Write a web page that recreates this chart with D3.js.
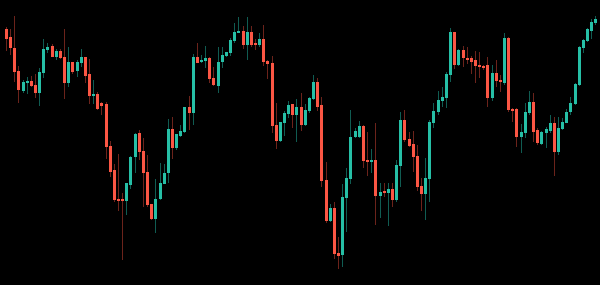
<!DOCTYPE html>
<html>
<head>
<meta charset="utf-8">
<script src="https://cdn.jsdelivr.net/npm/d3@7"></script>
<style>
    html, body { margin: 0; padding: 0; background: #000; }
    svg { display: block; }
</style>
</head>
<body>
<div id="chart"></div>
<script>
const open = [271, 263, 252, 229, 209, 217, 219, 215, 207, 227, 250, 254, 243, 249, 243, 217, 238, 229, 237, 243,
    226, 204, 206, 197, 196, 154, 130, 101, 101, 99, 115, 143, 167, 149, 128, 96, 81, 101, 116, 127,
    171, 152, 164, 168, 193, 187, 243, 238, 239, 242, 222, 214, 238, 244, 247, 259, 267, 269, 255, 268,
    257, 255, 261, 239, 237, 175, 159, 177, 186, 196, 185, 193, 175, 189, 201, 218, 195, 120, 79, 92,
    47, 45, 102, 121, 163, 163, 174, 140, 138, 140, 104, 109, 107, 111, 100, 134, 180, 161, 156, 144,
    114, 106, 121, 177, 188, 199, 202, 225, 268, 235, 250, 242, 242, 240, 235, 234, 235, 202, 227, 220,
    217, 262, 191, 191, 163, 167, 187, 198, 170, 156, 167, 169, 177, 148, 171, 177, 188, 196, 215, 252,
    259, 269, 277]
const high = [273, 271, 284, 234, 220, 223, 224, 226, 232, 261, 257, 256, 251, 251, 271, 253, 238, 240, 251, 243,
    241, 220, 208, 198, 198, 159, 136, 146, 107, 117, 144, 167, 170, 162, 145, 96, 121, 137, 136, 181,
    183, 166, 175, 193, 204, 246, 257, 245, 254, 243, 233, 253, 253, 248, 262, 277, 283, 274, 283, 274,
    261, 267, 275, 240, 244, 197, 178, 189, 199, 196, 201, 207, 196, 203, 225, 222, 203, 138, 96, 98,
    63, 116, 132, 190, 172, 179, 175, 168, 151, 177, 117, 117, 117, 117, 140, 188, 190, 168, 169, 155,
    122, 142, 180, 197, 209, 213, 228, 272, 268, 251, 254, 253, 244, 249, 248, 235, 243, 235, 240, 225,
    267, 263, 192, 192, 176, 197, 209, 207, 172, 169, 173, 185, 183, 183, 182, 191, 203, 217, 254, 261,
    272, 281, 284]
const low = [249, 245, 218, 197, 207, 206, 213, 202, 194, 222, 247, 243, 240, 241, 201, 213, 226, 223, 233, 217,
    196, 196, 190, 185, 141, 123, 98, 89, 40, 85, 111, 127, 140, 93, 93, 80, 67, 100, 116, 117,
    141, 150, 163, 167, 170, 175, 237, 237, 232, 217, 214, 207, 232, 243, 244, 257, 267, 251, 240, 253,
    250, 253, 234, 221, 167, 151, 158, 164, 182, 172, 158, 169, 174, 187, 200, 189, 113, 77, 78, 41,
    31, 33, 68, 116, 162, 162, 132, 124, 127, 75, 82, 103, 74, 93, 98, 113, 158, 153, 128, 109,
    89, 80, 98, 172, 185, 193, 192, 218, 231, 234, 233, 236, 226, 217, 222, 230, 193, 199, 213, 208,
    215, 188, 178, 153, 147, 162, 185, 158, 155, 155, 152, 167, 124, 145, 170, 177, 185, 195, 214, 247,
    258, 261, 275]
const close = [261, 252, 228, 210, 218, 219, 214, 207, 228, 251, 253, 243, 249, 242, 217, 238, 228, 238, 243, 224,
    204, 206, 191, 194, 153, 128, 100, 99, 99, 117, 143, 166, 148, 127, 95, 81, 101, 117, 127, 171,
    152, 166, 169, 193, 187, 243, 237, 240, 242, 221, 215, 238, 245, 248, 260, 268, 269, 255, 268, 255,
    255, 261, 238, 236, 174, 159, 178, 187, 195, 185, 193, 175, 190, 202, 218, 193, 119, 79, 92, 46,
    44, 103, 122, 163, 169, 174, 139, 138, 140, 104, 108, 107, 111, 100, 135, 180, 160, 154, 143, 113,
    106, 122, 178, 189, 200, 203, 226, 268, 235, 250, 242, 240, 238, 234, 233, 232, 202, 227, 219, 218,
    262, 190, 189, 163, 168, 188, 198, 168, 157, 168, 171, 177, 148, 172, 178, 188, 197, 216, 253, 260,
    271, 278, 281]

const days = d3.range(open.length)

const width = 600
const height = 285

const svg = d3.select('#chart')
    .append('svg')
    .attr('width', width)
    .attr('height', height)
    .style('background', '#000')

const x = d3.scaleBand()
    .domain(days)
    .range([3.9, 597.4])
    .paddingInner(0.28)
    .paddingOuter(0.14)

const y = d3.scaleLinear()
    .domain([15, 300])
    .range([height, 0])

const upColour = '#26bfa6'
const downColour = '#fb5644'
const upWick = '#105c52'
const downWick = '#6c231b'

const candles = svg.append('g')
    .attr('shape-rendering', 'crispEdges')
    .selectAll('g')
    .data(days)
    .join('g')

// wicks first so the bodies sit on top
candles.append('line')
    .attr('x1', d => Math.round(x(d) + x.bandwidth() / 2) + 0.5)
    .attr('x2', d => Math.round(x(d) + x.bandwidth() / 2) + 0.5)
    .attr('y1', d => y(high[d]))
    .attr('y2', d => y(low[d]))
    .attr('stroke', d => close[d] >= open[d] ? upWick : downWick)
    .attr('stroke-width', 1)

candles.append('rect')
    .attr('x', d => Math.round(x(d) + x.bandwidth() / 2) - 1)
    .attr('width', 3)
    .attr('y', d => y(Math.max(open[d], close[d])))
    .attr('height', d => Math.max(1.5, Math.abs(y(open[d]) - y(close[d]))))
    .attr('fill', d => close[d] >= open[d] ? upColour : downColour)
</script>
</body>
</html>
